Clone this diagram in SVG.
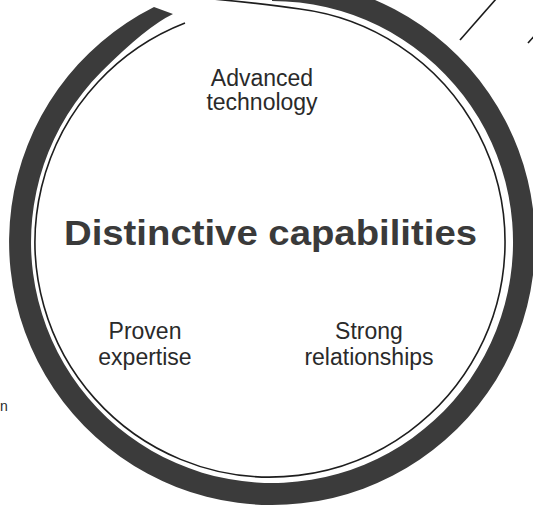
<svg xmlns="http://www.w3.org/2000/svg" width="533" height="507" viewBox="0 0 533 507">
  <style>
    .band { fill: #3b3b3b; }
    .thin { fill: none; stroke: #1e1e1e; stroke-width: 1.6; }
    .lbl { font-family: "Liberation Sans", Arial, sans-serif; font-size: 23px; fill: #2a2a2a; text-anchor: middle; }
    .title { font-family: "Liberation Sans", Arial, sans-serif; font-size: 35px; font-weight: bold; fill: #3a3a3a; text-anchor: middle; }
    .conn { fill: none; stroke: #1a1a1a; stroke-width: 1.6; }
  </style>
  <rect width="533" height="507" fill="#ffffff"/>
  <g id="ring">
    <path class="band" d="M154,7 A263,263 0 1 0 272,-21 L272,1 A241,241 0 1 1 101.6,71.6 Q146.5,26.6 173,14 Z"/>
    <path class="thin" d="M185,23 A235,235 0 1 0 300,9 C280,6 245,2 213,-1"/>
  </g>
  <g id="title">
    <text class="title" x="270.5" y="245" textLength="413" lengthAdjust="spacingAndGlyphs">Distinctive capabilities</text>
  </g>
  <g id="advanced-technology">
    <text class="lbl" x="262" y="86">Advanced</text>
    <text class="lbl" x="262" y="110">technology</text>
  </g>
  <g id="proven-expertise">
    <text class="lbl" x="145" y="339">Proven</text>
    <text class="lbl" x="145" y="365">expertise</text>
  </g>
  <g id="strong-relationships">
    <text class="lbl" x="369" y="339">Strong</text>
    <text class="lbl" x="369" y="365">relationships</text>
  </g>
  <g id="edge-text">
    <text x="0" y="411" font-family="'Liberation Sans', Arial, sans-serif" font-size="14" fill="#2a2a2a">n</text>
  </g>
  <g id="connectors">
    <line class="conn" x1="460" y1="40" x2="496" y2="-1"/>
    <line class="conn" x1="528" y1="43" x2="536" y2="34"/>
  </g>
</svg>
